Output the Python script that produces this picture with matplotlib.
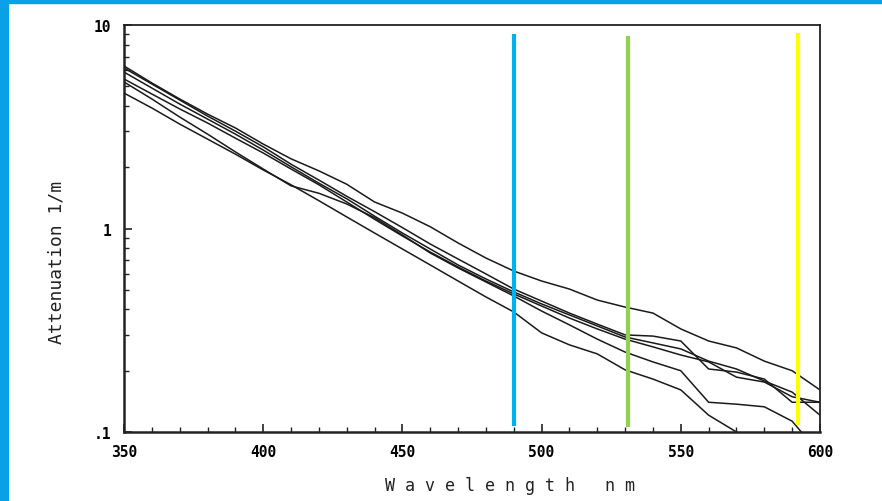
import matplotlib
matplotlib.use("Agg")
import matplotlib.pyplot as plt
from matplotlib.patches import Rectangle
from matplotlib.ticker import MultipleLocator, LogLocator, NullFormatter

# wavelength grid (nm)
wavelength = [350, 360, 370, 380, 390, 400, 410, 420, 430, 440, 450, 460, 470,
              480, 490, 500, 510, 520, 530, 540, 550, 560, 570, 580, 590, 600]

# attenuation (1/m), six water samples
att_a = [6.29, 5.19, 4.33, 3.65, 3.12, 2.60, 2.20, 1.92, 1.65, 1.35, 1.19, 1.02, 0.849,
         0.716, 0.618, 0.552, 0.504, 0.445, 0.411, 0.384, 0.321, 0.280, 0.259, 0.223, 0.200, 0.161]
att_b = [6.15, 5.13, 4.28, 3.57, 3.01, 2.52, 2.07, 1.73, 1.44, 1.21, 1.01, 0.839, 0.708,
         0.598, 0.504, 0.440, 0.384, 0.339, 0.300, 0.296, 0.280, 0.204, 0.197, 0.182, 0.140, 0.140]
att_c = [5.87, 4.90, 4.09, 3.45, 2.91, 2.43, 2.01, 1.67, 1.40, 1.15, 0.950, 0.793, 0.662,
         0.565, 0.488, 0.426, 0.376, 0.332, 0.293, 0.274, 0.256, 0.223, 0.204, 0.178, 0.157, 0.121]
att_d = [5.43, 4.58, 3.87, 3.30, 2.78, 2.35, 1.96, 1.64, 1.35, 1.11, 0.919, 0.766, 0.647,
         0.552, 0.477, 0.416, 0.363, 0.321, 0.286, 0.262, 0.239, 0.221, 0.186, 0.176, 0.149, 0.140]
att_e = [5.25, 4.33, 3.53, 2.91, 2.38, 1.96, 1.62, 1.49, 1.32, 1.13, 0.929, 0.758, 0.640,
         0.546, 0.466, 0.393, 0.336, 0.286, 0.247, 0.221, 0.200, 0.140, 0.137, 0.133, 0.113, 0.078]
att_f = [4.63, 3.91, 3.26, 2.75, 2.32, 1.94, 1.64, 1.37, 1.14, 0.950, 0.793, 0.662, 0.552,
         0.461, 0.389, 0.307, 0.268, 0.242, 0.202, 0.182, 0.161, 0.121, 0.100]

# coloured marker lines
band_nm = [490, 531, 592]
band_colors = ["#00b0f0", "#92d050", "#ffff00"]
band_top = [9.0, 8.8, 9.1]
band_bottom = [0.107, 0.106, 0.108]

W, H = 882, 502
fig = plt.figure(figsize=(W / 100, H / 100), dpi=100)
ax = fig.add_axes([124 / W, 1 - 433 / H, 696 / W, 407 / H])

for att in [att_a, att_b, att_c, att_d, att_e, att_f]:
    ax.plot(wavelength[:len(att)], att, color="#1a1a1a", lw=1.1)

for x, c, top, bot in zip(band_nm, band_colors, band_top, band_bottom):
    ax.vlines(x, bot, top, color=c, lw=3, zorder=5)

ax.set_yscale("log")
ax.set_xlim(350, 600)
ax.set_ylim(0.1, 10)

ax.set_xticks([350, 400, 450, 500, 550, 600])
ax.xaxis.set_minor_locator(MultipleLocator(10))
ax.set_yticks([0.1, 1, 10], labels=[".1", "1", "10"])
ax.yaxis.set_minor_locator(LogLocator(base=10, subs=range(2, 10)))
ax.yaxis.set_minor_formatter(NullFormatter())

ax.tick_params(which="both", direction="in", color="#222222")
ax.tick_params(which="major", length=6, width=1.2)
ax.tick_params(which="minor", length=3.5, width=1)
ax.tick_params(axis="x", pad=9)
ax.tick_params(axis="y", pad=9)
for lab in ax.get_xticklabels() + ax.get_yticklabels():
    lab.set_family("DejaVu Sans Mono")
    lab.set_fontweight("bold")
    lab.set_fontsize(10.5)

for side in ["left", "bottom"]:
    ax.spines[side].set_linewidth(1.8)
for side in ["top", "right"]:
    ax.spines[side].set_linewidth(1.3)
for sp in ax.spines.values():
    sp.set_color("#222222")

fig.text(510 / W, 1 - 486 / H, "W a v e l e n g t h   n m", ha="center", va="center",
         family="DejaVu Sans Mono", fontsize=12, color="#222222")
fig.text(57 / W, 1 - 262 / H, "Attenuation 1/m", rotation=90, ha="center", va="center",
         family="DejaVu Sans Mono", fontsize=13, color="#222222")

# blue frame on left and top edge
fig.patches.append(Rectangle((0, 0), 8 / W, 1, transform=fig.transFigure,
                             color="#0aa0e8", zorder=10))
fig.patches.append(Rectangle((0, 1 - 4 / H), 1, 4 / H, transform=fig.transFigure,
                             color="#0aa0e8", zorder=10))

fig.savefig("out.png", dpi=100)
